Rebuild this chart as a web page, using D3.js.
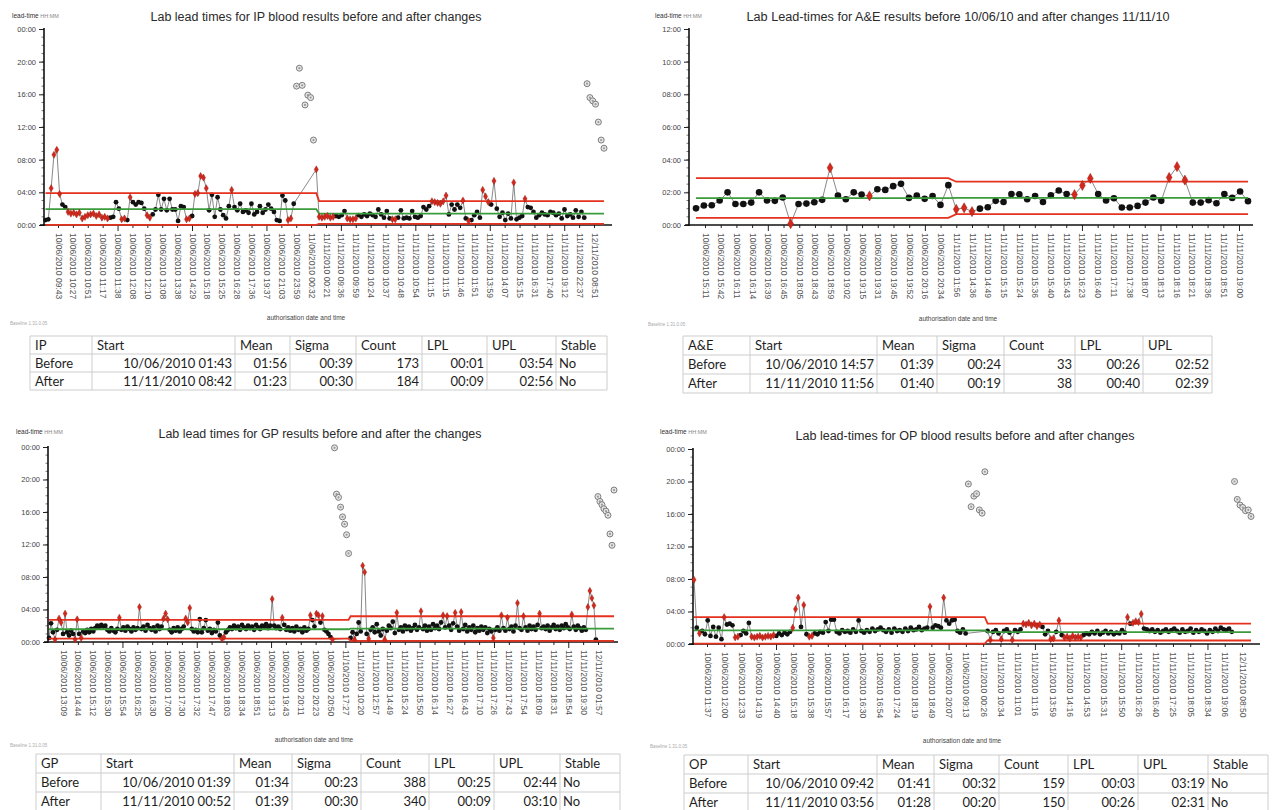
<!DOCTYPE html>
<html><head><meta charset="utf-8">
<script src="https://cdn.jsdelivr.net/npm/d3@7"></script>
<style>body{margin:0;background:#fff;}svg{display:block;}</style>
</head><body><svg id="c" width="1279" height="810"></svg>
<script>
// ---------------- DATA ----------------
// lead-time values in hours; flags: '.' normal, 'r' signal (red), 'o' excluded (hollow)
const ipLabels = ["10/06/2010 09:43","10/06/2010 10:27","10/06/2010 10:51","10/06/2010 11:17","10/06/2010 11:38","10/06/2010 12:08","10/06/2010 12:10","10/06/2010 13:08","10/06/2010 13:38","10/06/2010 14:29","10/06/2010 15:18","10/06/2010 15:25","10/06/2010 16:28","10/06/2010 17:36","10/06/2010 19:37","10/06/2010 21:03","10/06/2010 23:59","11/06/2010 00:32","11/11/2010 00:21","11/11/2010 09:36","11/11/2010 09:59","11/11/2010 10:24","11/11/2010 10:37","11/11/2010 10:48","11/11/2010 10:54","11/11/2010 11:15","11/11/2010 11:15","11/11/2010 11:46","11/11/2010 11:51","11/11/2010 13:59","11/11/2010 14:07","11/11/2010 15:15","11/11/2010 16:31","11/11/2010 17:40","11/11/2010 19:12","11/11/2010 22:37","12/11/2010 08:51"];
const ipBefore = [
0.6,0.7,4.5,8.6,9.2,3.8,2.5,2.2,1.6,1.4,
1.5,1.3,1.5,0.8,1.0,1.2,1.3,1.4,1.1,1.3,
0.9,1.0,0.8,0.9,1.0,2.8,2.0,0.7,0.8,0.6,
3.4,2.8,2.5,2.8,2.7,2.0,1.2,0.9,1.3,1.9,
3.7,1.9,3.2,1.8,3.2,1.9,1.9,0.5,2.3,2.2,
0.7,0.8,1.1,3.8,3.9,6.0,5.8,4.5,1.8,3.7,
1.0,3.4,1.9,1.2,0.8,2.3,4.3,2.2,1.8,2.6,
1.6,1.8,1.5,2.6,1.3,1.6,2.3,1.5,1.9,2.5,
2.0,1.6,0.6,0.5,3.6,3.0,0.6,0.8,2.6,17.0,
19.2,17.1,14.7,15.9,15.6,10.4,6.8];
const ipBeforeFlags = ["..rrrr..rr","rrrrrrrrrr","rrr....rr.","r.....rr..","..........","rr.rrrrr..","......r...","..........","......rr.o","oooooor"];
const ipAfter = [
1.0,0.9,1.0,1.1,0.9,1.0,1.1,1.0,1.2,1.7,
0.8,0.7,0.7,0.8,1.2,1.0,1.3,1.1,1.4,1.2,
1.0,1.9,1.3,0.9,1.7,0.8,0.7,0.7,0.9,1.8,
0.8,0.9,0.8,1.7,1.0,0.9,1.1,2.2,1.9,2.3,
2.9,2.8,2.7,2.6,2.9,3.6,1.3,2.5,1.9,2.5,
2.1,3.0,0.8,0.5,0.6,1.2,1.6,0.9,4.3,3.5,
2.8,2.5,5.4,2.0,1.0,1.5,0.6,1.4,0.8,5.2,
0.7,0.9,1.1,3.2,2.2,2.1,1.6,0.9,1.2,1.5,
1.3,1.2,1.6,1.5,1.2,1.4,0.8,1.9,1.1,1.3,
0.9,1.8,1.0,1.6,0.9,17.3,15.6,15.2,14.8,12.6,
10.4,9.4];
const ipAfterFlags = ["rrrrrr....","rrrr......","......rr..","..........","rrrrrr....",".r.r....rr","r.r......r","...r......","..........",".....ooooo","oo"];
const ipTable = [
["IP","Start","Mean","Sigma","Count","LPL","UPL","Stable"],
["Before","10/06/2010 01:43","01:56","00:39","173","00:01","03:54","No"],
["After","11/11/2010 08:42","01:23","00:30","184","00:09","02:56","No"]];

const aeLabels = ["10/06/2010 15:11","10/06/2010 15:42","10/06/2010 16:11","10/06/2010 16:14","10/06/2010 16:39","10/06/2010 16:45","10/06/2010 18:05","10/06/2010 18:43","10/06/2010 18:59","10/06/2010 19:02","10/06/2010 19:15","10/06/2010 19:31","10/06/2010 19:45","10/06/2010 19:52","10/06/2010 20:16","10/06/2010 20:34","11/11/2010 11:56","11/11/2010 14:36","11/11/2010 14:49","11/11/2010 15:15","11/11/2010 15:24","11/11/2010 15:36","11/11/2010 15:40","11/11/2010 15:43","11/11/2010 16:23","11/11/2010 16:40","11/11/2010 17:11","11/11/2010 17:38","11/11/2010 18:07","11/11/2010 18:13","11/11/2010 18:16","11/11/2010 18:21","11/11/2010 18:36","11/11/2010 18:51","11/11/2010 19:00"];
const aeBefore = [1.02,1.19,1.21,1.5,2.0,1.29,1.29,1.37,2.0,1.5,1.48,1.68,0.08,1.29,1.31,1.39,1.54,3.5,1.8,1.58,2.0,1.86,1.78,2.19,2.15,2.38,2.52,1.66,1.8,1.6,1.78,1.23,2.44];
const aeBeforeFlags = ["..........","..r....r..","..r.......","..."];
const aeAfter = [0.96,1.05,0.82,1.0,1.09,1.48,1.41,1.9,1.88,1.58,1.78,1.41,1.82,2.11,1.9,1.86,2.42,2.85,1.9,1.5,1.64,1.07,1.07,1.17,1.37,1.68,1.48,2.91,3.57,2.75,1.37,1.37,1.52,1.33,1.9,1.66,2.05,1.46];
const aeAfterFlags = ["rrr.......",".....rrr..",".......rrr","........"];
const aeTable = [
["A&E","Start","Mean","Sigma","Count","LPL","UPL"],
["Before","10/06/2010 14:57","01:39","00:24","33","00:26","02:52"],
["After","11/11/2010 11:56","01:40","00:19","38","00:40","02:39"]];

const gpLabels = ["10/06/2010 13:09","10/06/2010 14:44","10/06/2010 15:12","10/06/2010 15:30","10/06/2010 15:54","10/06/2010 16:25","10/06/2010 16:30","10/06/2010 17:00","10/06/2010 17:30","10/06/2010 17:32","10/06/2010 17:47","10/06/2010 18:03","10/06/2010 18:34","10/06/2010 18:51","10/06/2010 19:13","10/06/2010 19:43","10/06/2010 20:11","10/06/2010 20:23","10/06/2010 20:50","11/10/2010 17:27","11/11/2010 10:20","11/11/2010 12:57","11/11/2010 14:49","11/11/2010 15:24","11/11/2010 15:50","11/11/2010 16:14","11/11/2010 16:27","11/11/2010 16:43","11/11/2010 17:10","11/11/2010 17:26","11/11/2010 17:43","11/11/2010 17:54","11/11/2010 18:09","11/11/2010 18:31","11/11/2010 18:54","11/11/2010 19:30","12/11/2010 01:57"];
const gpBefore = [
0.5,2.3,1.2,0.3,1.5,2.9,2.4,1.0,3.5,1.2,
0.8,1.4,1.0,0.3,2.8,1.0,0.5,1.3,1.1,1.5,
1.2,1.6,1.3,1.7,2.0,1.8,2.1,1.9,2.0,1.5,
1.3,1.7,1.4,1.2,1.6,3.0,1.5,1.8,1.4,1.9,
1.6,1.3,1.8,1.5,1.7,4.3,1.6,1.9,1.4,2.1,
1.7,1.5,1.8,1.3,2.0,1.6,1.9,2.9,3.5,2.8,
1.5,1.2,1.7,1.4,1.8,1.3,1.6,1.9,2.9,2.4,
4.2,1.6,1.3,1.5,1.2,2.8,1.2,1.7,2.7,1.4,
1.6,1.1,1.5,1.3,2.4,0.8,0.4,0.6,1.2,1.5,
1.8,1.6,2.0,1.7,1.9,1.5,2.1,1.8,1.6,2.0,
1.7,1.9,1.5,2.1,1.8,1.6,2.0,1.9,2.2,1.7,
2.0,5.3,2.0,1.7,1.9,1.6,3.0,2.1,1.5,1.8,
1.4,1.7,1.3,1.9,1.5,1.6,1.2,1.8,1.4,1.6,
3.3,2.7,1.9,3.5,3.3,2.4,3.2,1.5,1.3,1.0,
0.6,0.3,23.9,18.2,17.8,16.6,15.4,14.5,13.2,10.9];
const gpBeforeFlags = ["...r.rr.r.","...rr.r...","..........",".....r....",".....r....",".......rrr","........rr","r.........","......rr..","..........","..........",".r....r...","..........","r..rr.r...",".roooooooo"];
const gpAfter = [
0.5,1.2,0.3,1.0,2.4,1.3,9.4,8.6,1.0,0.4,
1.5,1.8,1.2,2.2,1.3,0.8,1.6,0.3,1.4,2.0,
1.7,2.5,1.1,3.6,1.5,1.8,1.3,2.0,1.6,1.9,
1.4,1.7,2.1,1.5,1.8,3.8,1.6,2.0,1.4,1.9,
1.5,2.2,1.7,2.0,1.6,2.4,3.3,1.8,3.2,2.0,
1.5,2.3,3.6,1.9,1.4,3.7,1.6,2.1,1.3,1.8,
1.5,2.0,1.2,1.7,1.4,1.9,1.5,1.8,1.1,1.6,
1.3,0.5,1.5,1.8,1.4,3.3,1.7,1.4,3.0,1.6,
1.9,1.3,2.0,4.8,1.7,1.5,3.2,1.8,1.4,2.0,
1.6,1.9,1.5,2.1,3.5,1.7,1.9,1.6,2.0,1.4,
1.8,2.1,1.6,1.9,1.5,2.0,1.7,2.2,1.8,1.6,
3.4,1.9,1.5,2.0,1.7,1.4,1.8,1.5,4.3,6.3,
5.4,4.5,0.3,17.9,17.3,16.9,16.4,16.1,15.6,13.3,
11.9,18.7];
const gpAfterFlags = ["..r...rr.r",".......r..","...r......",".....r....","......r.r.","..r..r....","..........",".r...r..r.","...r..r...","....r.....","..........","r.......rr","rr.ooooooo","oo"];
const gpTable = [
["GP","Start","Mean","Sigma","Count","LPL","UPL","Stable"],
["Before","10/06/2010 01:39","01:34","00:23","388","00:25","02:44","No"],
["After","11/11/2010 00:52","01:39","00:30","340","00:09","03:10","No"]];

const opLabels = ["10/06/2010 11:37","10/06/2010 12:00","10/06/2010 12:33","10/06/2010 14:19","10/06/2010 14:40","10/06/2010 15:18","10/06/2010 15:38","10/06/2010 15:57","10/06/2010 16:17","10/06/2010 16:30","10/06/2010 16:54","10/06/2010 17:24","10/06/2010 18:19","10/06/2010 18:49","10/06/2010 20:07","11/06/2010 09:13","11/11/2010 00:26","11/11/2010 10:34","11/11/2010 11:01","11/11/2010 11:16","11/11/2010 13:59","11/11/2010 14:16","11/11/2010 14:53","11/11/2010 15:31","11/11/2010 15:50","11/11/2010 16:26","11/11/2010 16:40","11/11/2010 17:25","11/11/2010 18:05","11/11/2010 18:34","11/11/2010 19:06","12/11/2010 08:50"];
const opBefore = [
7.9,2.0,1.3,1.6,1.2,2.9,1.0,2.1,0.9,2.0,
0.6,3.3,2.4,2.5,2.3,0.8,0.9,1.1,1.6,1.3,
2.6,0.9,0.8,0.9,1.0,0.8,0.9,1.0,0.9,1.1,
1.0,1.3,1.1,1.4,1.2,1.5,2.0,4.3,5.7,2.1,
4.8,1.2,0.9,1.0,1.3,1.2,1.5,1.4,2.7,1.6,
3.0,3.0,1.5,1.3,1.7,1.5,1.6,1.4,1.8,1.5,
2.9,1.6,1.4,1.7,1.5,1.9,1.6,1.8,2.0,1.7,
1.5,1.8,1.4,1.9,1.6,1.7,1.5,1.9,1.6,2.0,
1.7,1.8,2.1,1.7,1.9,2.0,4.6,2.0,2.3,2.2,
2.0,5.7,2.9,2.5,2.9,3.0,1.6,1.4,1.8,1.3,
19.7,16.9,18.2,18.5,16.5,16.1,21.2];
const opBeforeFlags = ["r.r.......",".r...rr...",".rrrrrrrrr","......rrr.","r.rr......","..........","..........","..........","......r...",".r........","ooooooo"];
const opAfter = [
1.6,0.5,1.5,1.7,1.3,0.6,1.6,1.8,1.4,0.5,
1.7,1.5,1.8,2.5,2.4,2.6,2.3,2.5,2.2,2.4,
2.1,1.2,1.6,0.6,0.7,1.5,2.9,1.1,0.8,0.9,
0.7,1.0,0.8,0.9,0.8,1.1,1.3,1.2,1.5,1.3,
1.6,1.2,1.4,1.6,1.3,1.5,1.2,1.4,1.3,1.7,
1.4,3.3,2.5,2.6,2.8,2.7,3.7,1.9,1.8,1.6,
1.8,1.5,1.7,1.4,1.6,1.8,1.5,1.7,1.9,1.6,
1.4,1.8,1.5,1.6,1.9,1.4,1.7,1.5,1.8,1.6,
1.3,1.7,1.5,1.9,1.6,2.0,1.8,1.7,1.9,1.5,
20.0,17.8,17.1,16.8,16.4,16.5,15.7];
const opAfterFlags = [".r...r...r","...rrrrrrr","...rr.r.rr","rrrrr.....","..........",".r.rrrr...","..........","..........","..........","ooooooo"];
const opTable = [
["OP","Start","Mean","Sigma","Count","LPL","UPL","Stable"],
["Before","10/06/2010 09:42","01:41","00:32","159","00:03","03:19","No"],
["After","11/11/2010 03:56","01:28","00:20","150","00:26","02:31","No"]];

const titles = {
  ip: "Lab lead times for IP blood results before and after changes",
  ae: "Lab Lead-times for A&E results before 10/06/10 and after changes 11/11/10",
  gp: "Lab lead times for GP results before and after the changes",
  op: "Lab lead-times for OP blood results before and after changes"
};
const ticks24 = [0,4,8,12,16,20,24];
const ticks12 = [0,2,4,6,8,10,12];

// ---------------- DRAWING ----------------
const svg = d3.select('#c');
const FONT = '"Liberation Sans", Arial, Helvetica, sans-serif';
const hm = s => { const p = s.split(':').map(Number); return p[0] + p[1]/60; };
const fmtTick = v => String(v % 24).padStart(2,'0') + ':00';
const flagsOf = rows => rows.join('').replace(/\s+/g,'').split('');

function drawPanel(P) {
  const g = svg.append('g');
  const vals = P.before.concat(P.after);
  const flags = flagsOf(P.beforeFlags).concat(flagsOf(P.afterFlags));
  if (flagsOf(P.beforeFlags).length !== P.before.length || flagsOf(P.afterFlags).length !== P.after.length)
    console.error('flag mismatch', P.title);
  const nb = P.before.length, n = vals.length;
  const x = d3.scaleLinear().domain([0, n - 1]).range(P.dataX);
  const y = d3.scaleLinear().domain([0, P.yMax]).range([P.yBot, P.yTop]);
  const pts = vals.map((v, i) => ({ i, v, f: flags[i] || '.' }));

  // texts
  const lt = g.append('text').attr('x', P.lead[0]).attr('y', P.lead[1]).style('font-family', FONT);
  lt.append('tspan').text('lead-time').attr('font-size', 6.5).attr('fill', '#333');
  lt.append('tspan').text(' HH:MM').attr('font-size', 5.5).attr('fill', '#888');
  g.append('text').attr('x', P.titlePos[0]).attr('y', P.titlePos[1]).attr('text-anchor', 'middle')
    .attr('textLength', P.titleW).attr('lengthAdjust', 'spacingAndGlyphs')
    .style('font-family', FONT).attr('font-size', 12).attr('fill', '#2a2a2a').text(P.title);
  g.append('text').attr('x', P.xTitle[0]).attr('y', P.xTitle[1]).attr('text-anchor', 'middle')
    .style('font-family', FONT).attr('font-size', 6.5).attr('fill', '#444').text('authorisation date and time');
  g.append('text').attr('x', P.note[0]).attr('y', P.note[1])
    .style('font-family', FONT).attr('font-size', 4.5).attr('fill', '#aaa').text('Baseline 1.31.0.05');

  // y axis
  const ya = d3.axisLeft(y).tickValues(P.yTicks).tickFormat(fmtTick).tickSize(5).tickPadding(3);
  const gy = g.append('g').attr('transform', `translate(${P.axisX},0)`).call(ya);
  gy.select('.domain').remove();
  gy.selectAll('.tick line').attr('stroke', '#222');
  gy.selectAll('.tick text').attr('fill', '#444').style('font-family', FONT).attr('font-size', 7.5);
  gy.selectAll('line.minor').data(d3.range(0, P.yMax, P.minor)).join('line').attr('class', 'minor')
    .attr('x1', -2.5).attr('x2', 0).attr('y1', d => y(d)).attr('y2', d => y(d))
    .attr('stroke', '#444').attr('stroke-width', 0.7);
  gy.append('line').attr('x1', 0).attr('x2', 0).attr('y1', P.yTop - 1).attr('y2', P.yBot + 1)
    .attr('stroke', '#111').attr('stroke-width', 1.6);

  // x axis
  const xl = d3.scalePoint().domain(d3.range(P.labels.length)).range(P.labelX);
  const xa = d3.axisBottom(xl).tickFormat(i => P.labels[i]).tickSize(3).tickSizeOuter(0);
  const gx = g.append('g').attr('transform', `translate(0,${P.yBot})`).call(xa);
  gx.select('.domain').remove();
  gx.selectAll('.tick line').attr('stroke', '#222').attr('y2', (d, i) => (i % 5 === 4 ? 6 : 3));
  gx.selectAll('.tick text').attr('transform', 'rotate(90)').attr('x', 8).attr('y', 0).attr('dy', '0.35em')
    .style('text-anchor', 'start').attr('fill', '#555').style('font-family', FONT).attr('font-size', 8.5);
  gx.append('line').attr('x1', P.axisX - 4).attr('x2', P.xEnd).attr('y1', 0).attr('y2', 0)
    .attr('stroke', '#111').attr('stroke-width', 1.6);

  // data line
  const line = d3.line().x(d => x(d.i)).y(d => y(d.v));
  g.append('path').datum(pts.filter(p => p.f !== 'o')).attr('d', line)
    .attr('fill', 'none').attr('stroke', '#555').attr('stroke-width', 0.7);

  // black points
  g.append('g').selectAll('circle').data(pts.filter(p => p.f === '.')).join('circle')
    .attr('cx', d => x(d.i)).attr('cy', d => y(d.v)).attr('r', P.r).attr('fill', '#111');

  // control lines from table (Mean col 2, LPL col 5, UPL col 6)
  const T = P.table;
  const ctrl = col => [[0, hm(T[1][col])], [nb - 1, hm(T[1][col])], [nb, hm(T[2][col])], [n - 1, hm(T[2][col])]];
  const cl = d3.line().x(d => x(d[0])).y(d => y(d[1]));
  [[5, '#e5321f'], [6, '#e5321f'], [2, '#3a9c3c']].forEach(([col, c]) => {
    g.append('path').datum(ctrl(col)).attr('d', cl).attr('fill', 'none')
      .attr('stroke', c).attr('stroke-width', 1.8);
  });

  // red signal points
  const sym = d3.symbol(d3.symbolDiamond, P.rs);
  g.append('g').selectAll('path').data(pts.filter(p => p.f === 'r')).join('path')
    .attr('transform', d => `translate(${x(d.i)},${y(d.v)})`).attr('d', sym)
    .attr('fill', '#d3291d').attr('stroke', '#8e1a10').attr('stroke-width', 0.4);

  // excluded points
  const og = g.append('g').selectAll('g').data(pts.filter(p => p.f === 'o')).join('g')
    .attr('transform', d => `translate(${x(d.i)},${y(d.v)})`);
  og.append('circle').attr('r', 3).attr('fill', '#e6e6e6').attr('stroke', '#7d7d7d').attr('stroke-width', 1);
  og.append('circle').attr('r', 1.1).attr('fill', '#9a9a9a');

  // table
  const tg = svg.append('g').style('font-family', 'Lato, "Open Sans", sans-serif').attr('font-size', 13).attr('fill', '#1e1e1e');
  const C = P.tcols, R = P.trows;
  R.forEach(yy => tg.append('line').attr('x1', C[0]).attr('x2', C[C.length - 1]).attr('y1', yy).attr('y2', yy)
    .attr('stroke', '#cdcdcd').attr('stroke-width', 1));
  C.forEach(xx => tg.append('line').attr('x1', xx).attr('x2', xx).attr('y1', R[0]).attr('y2', R[R.length - 1])
    .attr('stroke', '#cdcdcd').attr('stroke-width', 1));
  T.forEach((row, ri) => row.forEach((cell, ci) => {
    const left = ri === 0 || ci === 0 || ci === 7;
    tg.append('text').attr('x', left ? C[ci] + (ci === 7 && ri > 0 ? 3 : 5) : C[ci + 1] - 3)
      .attr('y', R[ri] + 14).attr('text-anchor', left ? 'start' : 'end').text(cell);
  }));
}

drawPanel({ title: titles.ip, before: ipBefore, after: ipAfter, beforeFlags: ipBeforeFlags, afterFlags: ipAfterFlags,
  labels: ipLabels, table: ipTable, yMax: 24, yTicks: ticks24, minor: 1,
  axisX: 44, yTop: 29, yBot: 225, xEnd: 612, dataX: [45.5, 604], labelX: [58, 594], r: 2.4, rs: 15,
  lead: [12, 17.5], titlePos: [316, 21], titleW: 331, xTitle: [306, 320], note: [10, 325],
  tcols: [30, 92, 235, 290, 356, 422, 487, 556, 607], trows: [336, 354, 372, 390] });

drawPanel({ title: titles.ae, before: aeBefore, after: aeAfter, beforeFlags: aeBeforeFlags, afterFlags: aeAfterFlags,
  labels: aeLabels, table: aeTable, yMax: 12, yTicks: ticks12, minor: 0.5,
  axisX: 689, yTop: 29, yBot: 225, xEnd: 1253, dataX: [696, 1248], labelX: [705, 1239], r: 3.3, rs: 30,
  lead: [655, 17.5], titlePos: [958, 21], titleW: 423, xTitle: [958, 321], note: [648, 326],
  tcols: [683, 750, 877, 937, 1004, 1075, 1143, 1212], trows: [336, 355, 374, 393] });

drawPanel({ title: titles.gp, before: gpBefore, after: gpAfter, beforeFlags: gpBeforeFlags, afterFlags: gpAfterFlags,
  labels: gpLabels, table: gpTable, yMax: 24, yTicks: ticks24, minor: 1,
  axisX: 48, yTop: 447, yBot: 642, xEnd: 618, dataX: [49, 614], labelX: [63, 598], r: 2.4, rs: 14,
  lead: [16, 434], titlePos: [320, 438], titleW: 323, xTitle: [314, 742], note: [10, 747],
  tcols: [36, 101, 234, 292, 361, 429, 494, 560, 620], trows: [754, 773, 792, 811] });

drawPanel({ title: titles.op, before: opBefore, after: opAfter, beforeFlags: opBeforeFlags, afterFlags: opAfterFlags,
  labels: opLabels, table: opTable, yMax: 24, yTicks: ticks24, minor: 1,
  axisX: 693, yTop: 449, yBot: 644, xEnd: 1260, dataX: [694, 1251], labelX: [707, 1242], r: 2.4, rs: 15,
  lead: [660, 434], titlePos: [965, 440], titleW: 339, xTitle: [962, 743], note: [650, 748],
  tcols: [684, 748, 877, 934, 999, 1068, 1138, 1208, 1268], trows: [755, 774, 793, 812] });
</script></body></html>
